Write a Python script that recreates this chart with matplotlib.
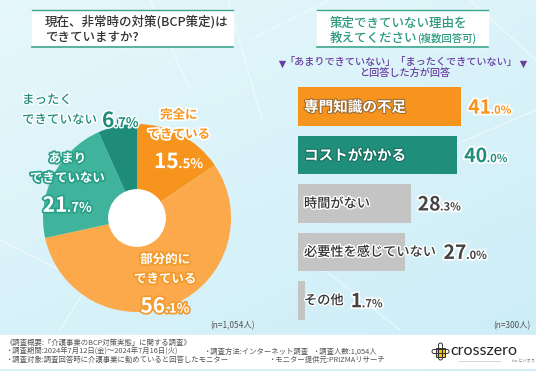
import numpy as np
import matplotlib
matplotlib.use("Agg")
import matplotlib.pyplot as plt
import matplotlib.patheffects as pe
from matplotlib.patches import Rectangle, Circle, FancyBboxPatch

plt.rcParams['font.family'] = ['Noto Sans CJK JP', 'DejaVu Sans']

# ---------- data ----------
pie_labels = [['完全に', 'できている'], ['部分的に', 'できている'],
              ['あまり', 'できていない'], ['まったく', 'できていない']]
pie_vals = [15.5, 56.1, 21.7, 6.7]
pie_colors = ['#f7941d', '#fba94a', '#3fb39c', '#1f8c7a']
pie_n = '(n=1,054人)'

bar_labels = ['専門知識の不足', 'コストがかかる', '時間がない', '必要性を感じていない', 'その他']
bar_vals = [41.0, 40.0, 28.3, 27.0, 1.7]
bar_colors = ['#f7941d', '#1f8f7b', '#c4c4c4', '#c4c4c4', '#c4c4c4']
bar_n = '(n=300人)'

title_left = ['現在、非常時の対策(BCP策定)は', 'できていますか?']
title_right = ['策定できていない理由を', '教えてください', '(複数回答可)']
sub_lines = ['「あまりできていない」「まったくできていない」', 'と回答した方が回答']

footer = [
    [(5, '《調査概要:「介護事業のBCP対策実態」に関する調査》')],
    [(5, '・調査期間:2024年7月12日(金)〜2024年7月16日(火)'),
     (203, '・調査方法:インターネット調査'), (312, '・調査人数:1,054人')],
    [(5, '・調査対象:調査回答時に介護事業に勤めていると回答したモニター'),
     (268, '・モニター提供元:PRIZMAリサーチ')],
]

W, H = 536, 371
fig = plt.figure(figsize=(W / 100, H / 100), dpi=100)

# background layer
bg = fig.add_axes([0, 0, 1, 1], zorder=0)
bg.set_xlim(0, W); bg.set_ylim(H, 0); bg.axis('off')
gx = np.linspace(0, 1, 200)
gy = np.linspace(0, 1, 200)
GX, GY = np.meshgrid(gx, gy)
c1 = np.array([0.90, 0.97, 0.985])
c2 = np.array([0.80, 0.93, 0.97])
tt = (0.4 * GX + 0.6 * GY)[..., None]
bg.imshow(c1 * (1 - tt) + c2 * tt, extent=[0, W, H, 0], aspect='auto', zorder=0)
for (x0, y0, x1, y1) in [(228, 0, 262, 120), (250, 40, 330, 0), (0, 240, 120, 300),
                         (60, 330, 110, 250), (420, 160, 536, 110), (470, 0, 536, 60),
                         (300, 250, 400, 330), (150, 0, 190, 90)]:
    bg.plot([x0, x1], [y0, y1], color='white', lw=0.9, alpha=0.55, zorder=1)
bg.add_patch(Rectangle((0, 335), W, 33, color='white', zorder=2))

# foreground text layer
fg = fig.add_axes([0, 0, 1, 1], zorder=10)
fg.set_xlim(0, W); fg.set_ylim(H, 0); fg.axis('off'); fg.patch.set_alpha(0)
r = fig.canvas.get_renderer()


def stroke(c, lw=2.5):
    return [pe.withStroke(linewidth=lw, foreground=c)]


def to_fg(ax, x, y):
    d = ax.transData.transform((x, y))
    return fg.transData.inverted().transform(d)


def num_label(x, y, val, big, small, color, edge, lw=2.5, ha='left'):
    whole, dec = f"{val:.1f}".split('.')
    t1 = fg.text(x, y, whole, fontsize=big, color=color, fontweight='bold',
                 va='baseline', ha='left', path_effects=stroke(edge, lw))
    t2 = fg.text(x, y, '.' + dec + '%', fontsize=small, color=color, fontweight='bold',
                 va='baseline', ha='left', path_effects=stroke(edge, lw))
    w1 = t1.get_window_extent(r).width
    w2 = t2.get_window_extent(r).width
    x0 = x - (w1 + w2) / 2 if ha == 'center' else x
    t1.set_x(x0)
    t2.set_x(x0 + w1 - 0.5)
    return x0 + w1 + w2


# ---------- title boxes ----------
teal_line = '#3aa58e'
for (x0, x1) in [(32, 233), (317, 488)]:
    bg.add_patch(Rectangle((x0, 10), x1 - x0, 37, color='white', zorder=3))
    bg.plot([x0, x1], [10, 10], color=teal_line, lw=1.0, zorder=4)
    bg.plot([x0, x1], [47, 47], color=teal_line, lw=1.2, zorder=4)
fg.text(45, 22, title_left[0], fontsize=9, color='#333333', fontweight='medium', va='center')
fg.text(45, 38, title_left[1], fontsize=9, color='#333333', fontweight='medium', va='center')
tcol = '#2c9a7f'
fg.text(330, 23, title_right[0], fontsize=9, color=tcol, fontweight='medium', va='center')
t = fg.text(330, 38, title_right[1], fontsize=9, color=tcol, fontweight='medium', va='center')
fg.text(330 + t.get_window_extent(r).width, 38.5, title_right[2], fontsize=7.5, color=tcol,
        fontweight='medium', va='center')

purple = '#6a3fa0'
fg.text(401, 62, sub_lines[0], fontsize=7.3, color=purple, fontweight='medium', ha='center', va='center')
fg.text(405, 73, sub_lines[1], fontsize=7.3, color=purple, fontweight='medium', ha='center', va='center')
fg.scatter([282, 523], [64, 64], marker='v', s=28, color=purple, linewidths=0)

# ---------- pie ----------
cx, cy, rad = 137, 218, 94
axp = fig.add_axes([(cx - rad) / W, 1 - (cy + rad) / H, 2 * rad / W, 2 * rad / H], zorder=5)
wedges, _ = axp.pie(pie_vals, colors=pie_colors, startangle=90, counterclock=False,
                    radius=1, wedgeprops=dict(linewidth=0))
axp.add_patch(Circle((0, 0), 0.3, color='white', zorder=5))
axp.set_xlim(-1, 1); axp.set_ylim(-1, 1); axp.axis('off')

label_r = [0.95, 0.76, 0.83]
strokes = ['#f7941d', '#f39a2c', '#2a9f89']
for i in range(3):
    w = wedges[i]
    mid = np.deg2rad((w.theta1 + w.theta2) / 2)
    ax_, ay_ = to_fg(axp, label_r[i] * np.cos(mid), label_r[i] * np.sin(mid))
    for j, line in enumerate(pie_labels[i]):
        if i == 0:
            fc, ec = pie_colors[0], 'white'
        else:
            fc, ec = 'white', strokes[i]
        fg.text(ax_, ay_ - 24 + 19.5 * j, line, fontsize=9, color=fc, fontweight='bold',
                ha='center', va='center', path_effects=stroke(ec, 2.5))
    num_label(ax_, ay_ + 29, pie_vals[i], 15, 9.5, 'white', strokes[i], 2.5, ha='center')

# outside label for the small slice
dark = pie_colors[3]
w = wedges[3]
mid = np.deg2rad((w.theta1 + w.theta2) / 2)
lx, ly = to_fg(axp, np.cos(mid), np.sin(mid))
fg.plot([lx, lx], [ly - 1, ly - 8], color=dark, lw=0.9)
fg.text(22, 100, pie_labels[3][0], fontsize=9, color=dark, fontweight='medium', va='center',
        path_effects=stroke('white', 2))
t = fg.text(22, 120, pie_labels[3][1], fontsize=9, color=dark, fontweight='medium', va='center',
            path_effects=stroke('white', 2))
num_label(22 + t.get_window_extent(r).width + 5, 127, pie_vals[3], 15, 9.5, dark, 'white', 2)
fg.text(255, 326, pie_n, fontsize=6, color='#555555', ha='right', va='center')

# ---------- bars ----------
px_per = 3.98
axb = fig.add_axes([298 / W, 1 - 324.5 / H, 238 / W, 242 / H], zorder=5)
axb.barh(range(len(bar_vals)), bar_vals, height=0.8, color=bar_colors)
axb.set_xlim(0, 238 / px_per); axb.set_ylim(len(bar_vals) - 0.5, -0.5)
axb.axis('off'); axb.patch.set_alpha(0)

val_colors = ['#f7941d', '#1f8f7b', '#444444', '#444444', '#444444']
for i, (lab, v) in enumerate(zip(bar_labels, bar_vals)):
    bx0, by = to_fg(axb, 0, i)
    bx1, _ = to_fg(axb, v, i)
    if i < 2:
        t = fg.text(bx0 + 6, by, lab, fontsize=10.5, color='white', fontweight='bold', va='center',
                    path_effects=stroke('#9a6a30' if i == 0 else '#146b5b', 1.5))
    else:
        t = fg.text(bx0 + 6, by, lab, fontsize=9.5, color='#333333', fontweight='medium', va='center',
                    path_effects=stroke('white', 2))
    tx1 = fg.transData.inverted().transform(t.get_window_extent(r))[1][0]
    num_label(max(bx1, tx1) + 7, by + 7, v, 14, 8, val_colors[i], 'white', 2.5)
fg.text(530, 326, bar_n, fontsize=6, color='#555555', ha='right', va='center')

# ---------- footer ----------
for k, row in enumerate(footer):
    for (x, s) in row:
        fg.text(x, 343 + 8.5 * k, s, fontsize=5.3, color='#555555', va='center')

# logo
fg.add_patch(Rectangle((436, 347.5), 9, 9, facecolor='#f5c400', edgecolor='#333333', lw=0.7))
fg.add_patch(FancyBboxPatch((438.5, 343), 4, 17, boxstyle='round,pad=0,rounding_size=2',
                            facecolor='none', edgecolor='#333333', lw=0.7))
fg.add_patch(FancyBboxPatch((432, 349.5), 17, 4, boxstyle='round,pad=0,rounding_size=2',
                            facecolor='none', edgecolor='#333333', lw=0.7))
fg.text(450, 351, 'crosszero', fontsize=11.5, color='#222222', family=['Lato', 'DejaVu Sans'],
        fontweight='normal', va='center')
fg.plot([458, 500], [361, 361], color='#bbbbbb', lw=0.4)
fg.text(512, 361.5, 'for ビジネス', fontsize=3, color='#777777', va='center')

fig.savefig('out.png', dpi=100)
